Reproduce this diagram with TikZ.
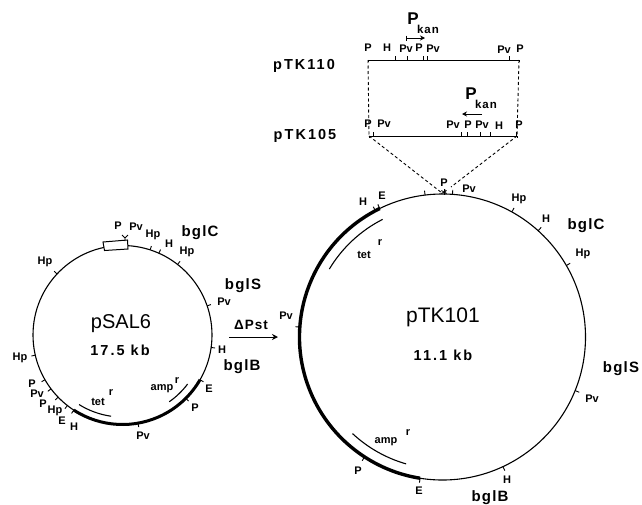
\documentclass[tikz,border=0pt]{standalone}
\usepackage{fontspec}
\setmainfont{Liberation Sans}
\newfontfamily\genefont[LetterSpace=8]{Liberation Sans Bold}
\newfontfamily\mapfont[LetterSpace=14]{Liberation Sans Bold}
\newfontfamily\sizefont[LetterSpace=14]{Liberation Sans Bold}
\newfontfamily\sitefont{Liberation Sans Bold}
\usetikzlibrary{arrows.meta,calc}
\tikzset{
  ring/.style={draw=black,circle,line width=1.1pt,inner sep=0pt,outer sep=0pt},
  site/.style={inner sep=0pt,font=\sitefont\fontsize{11}{12}\selectfont},
  gene/.style={inner sep=0pt,font=\genefont\fontsize{15}{16}\selectfont},
  mapname/.style={inner sep=0pt,font=\mapfont\fontsize{14.5}{16}\selectfont},
  plasmid/.style={inner sep=0pt,font=\fontsize{20}{22}\selectfont},
  kbsize/.style={inner sep=0pt,font=\sizefont\fontsize{14.5}{16}\selectfont},
  heavy/.style={line width=3pt},
  tickmark/.style={line width=.9pt},
  insert/.style={line width=1pt},
  drop/.style={dashed,dash pattern=on 3pt off 2.5pt,line width=.9pt},
  feat/.style={line width=1.1pt},
  arr/.style={line width=1pt,-{Stealth[length=6pt,width=6pt]}},
}
\begin{document}
\begin{tikzpicture}[x=1pt,y=-1pt]
\useasboundingbox (0,0) rectangle (642,504);
\node[ring,minimum size=179pt] (small) at (122.5,335) {};
\node[ring,minimum size=286pt] (big) at (442.5,337) {};
% heavy segments
\draw[heavy,shift={(small.center)}] (237:89.5pt) arc[start angle=237,end angle=330,radius=89.5pt];
\draw[heavy,line width=3.4pt,shift={(big.center)}] (116:143pt) arc[start angle=116,end angle=261,radius=143pt];
% resistance bars
\draw[feat,shift={(small.center)}] (238:82pt) arc[start angle=238,end angle=262,radius=82pt];
\draw[feat,shift={(small.center)}] (305:81.5pt) arc[start angle=305,end angle=323,radius=81.5pt];
\draw[feat,shift={(big.center)}] (117:132pt) arc[start angle=117,end angle=149,radius=132pt];
\draw[feat,shift={(big.center)}] (227:132pt) arc[start angle=227,end angle=254,radius=132pt];
% insert box
\draw[fill=white,line width=1pt] (103,242) -- (127.5,240) -- (128,249) -- (104.5,250.5) -- cycle;
% ticks
\foreach \a in {72.6,66,52.6,19,-8,330,315,280,137,193,210,217,224.5,232,237}
  \draw[tickmark] (small.\a) -- ++(\a:4pt);
\foreach \a in {97.5,89,86,61,48.6,30.6,-22,-65,261,237,176,118,116}
  \draw[tickmark] (big.\a) -- ++(\a:4.5pt);
% Y-shaped P Pv site on the small plasmid
\coordinate (yfoot) at (125,241);
\coordinate (yfork) at (125,238);
\coordinate (yl) at (122,235);
\coordinate (yr) at (128,235);
\draw[tickmark] (yfoot) -- (yfork) -- (yl) (yfork) -- (yr);
% star at the insertion site
\coordinate (starc) at (444,192);
\foreach \a in {30,90,150}
  \draw[line width=.8pt] ($(starc)+(\a:3pt)$) -- ($(starc)+(\a+180:3pt)$);
% linear maps
\coordinate (aL) at (368,60);
\coordinate (aR) at (519,60);
\coordinate (bL) at (369,136);
\coordinate (bR) at (517,136);
\coordinate (sitel) at (442,193);
\coordinate (siter) at (451,187);
\draw[insert] ($(aL)+(0,2)$) -- (aL) -- (aR) -- ($(aR)+(0,2)$);
\draw[insert] ($(bL)+(0,2)$) -- (bL) -- (bR) -- ($(bR)+(0,2)$);
\foreach \x in {395,407,423,427,509}
  \draw[tickmark] (\x,60) -- (\x,56);
\foreach \x in {373,461,467,480,490,516}
  \draw[tickmark] (\x,136) -- (\x,132);
\draw[drop] (aL) -- (bL);
\draw[drop] (aR) -- (bR);
\draw[drop] (bL) -- (sitel);
\draw[drop] (bR) -- (siter);
% promoter arrows
\coordinate (pa1) at (406,38);
\coordinate (pa2) at (425,38);
\coordinate (pb1) at (482,114);
\coordinate (pb2) at (462,114);
\draw[arr,-{Stealth[length=5pt,width=5pt]}] (pa1) -- (pa2);
\draw[tickmark] ($(pa1)+(0,-2.5)$) -- ($(pa1)+(0,2.5)$);
\draw[arr,-{Stealth[length=5pt,width=5pt]}] (pb1) -- (pb2);
% deletion arrow
\coordinate (d1) at (229,337);
\coordinate (d2) at (278,337);
\draw[arr] (d1) -- (d2);
% small site labels
\foreach \x/\y/\t [count=\i] in {
 118/226/P,136/227/Pv,153/235/Hp,169/244/H,187/252/Hp,224/302/Pv,222/350/H,
 45/262/Hp,20/358/Hp,32/384/P,37/394/Pv,43/404/P,55/411/Hp,62/421/E,74/427/H,
 209/389/E,195/408/P,143/436/Pv,
 286/316/Pv,363/202/H,382/196/E,444/183/P,469/189/Pv,519/199/Hp,546/219/H,583/254/Hp,
 592/399/Pv,507/480/H,419/491/E,358/471/P,
 368/48/P,387/48/H,406/49/Pv,419/48/P,433/49/Pv,504/50/Pv,520/49/P,
 368/124/P,384/124/Pv,453/125/Pv,468/125/P,482/125/Pv,499/126/H,519/125/P,
 98/402/tet,162/389/amp,364/255/tet,386/442/amp,
 111/393/r,177/381/r,380/243/r,408/433/r}
  \node[site] (site\i) at (\x,\y) {\t};
% gene and map labels
\foreach \x/\y/\t [count=\i] in {
 200/233/bglC,243/286/bglS,242/367/bglB,586/226/bglC,621/369/bglS,490/498/bglB}
  \node[gene] (gene\i) at (\x,\y) {\t};
\node[mapname] (map1) at (304,66) {pTK110};
\node[mapname] (map2) at (305,136) {pTK105};
\node[gene,font=\genefont\fontsize{13.5}{15}\selectfont] (del) at (251,325) {ΔPst};
\node[gene,font=\sitefont\fontsize{17}{17}\selectfont] (p1) at (413,19) {P};
\node[site,font=\genefont\fontsize{11.5}{12}\selectfont] (k1) at (428,29) {kan};
\node[gene,font=\sitefont\fontsize{17}{17}\selectfont] (p2) at (471,94) {P};
\node[site,font=\genefont\fontsize{11.5}{12}\selectfont] (k2) at (486,104) {kan};
\node[plasmid] (n1) at (121,324) {pSAL6};
\node[kbsize] (s1) at (120,350) {17.5 kb};
\node[plasmid,font=\fontsize{21}{22}\selectfont] (n2) at (443,317) {pTK101};
\node[kbsize] (s2) at (443,355) {11.1 kb};
\end{tikzpicture}
\end{document}
